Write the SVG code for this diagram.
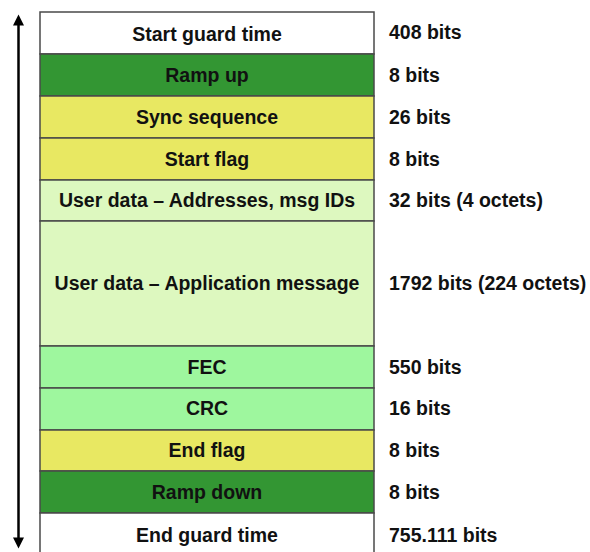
<svg xmlns="http://www.w3.org/2000/svg" width="590" height="552" viewBox="0 0 590 552">
  <style>
    .cell { stroke: #4a4a4a; stroke-width: 1.5; }
    .white { fill: #ffffff; }
    .dark { fill: #339633; }
    .yellow { fill: #e8e862; }
    .pale { fill: #ddf8bf; }
    .mint { fill: #9ef79e; }
    text { font-family: "Liberation Sans", Arial, sans-serif; font-weight: bold; font-size: 19.5px; fill: #111; }
    .name { text-anchor: middle; }
    .size { text-anchor: start; }
  </style>
  <defs>
    <marker id="head" viewBox="0 0 10 10" refX="5" refY="5" markerWidth="4.8" markerHeight="4.4" orient="auto-start-reverse" markerUnits="strokeWidth">
      <path d="M0,0 L10,5 L0,10 z" fill="#000"/>
    </marker>
  </defs>

  <rect width="590" height="552" fill="#ffffff"/>

  <!-- frame span arrow -->
  <g id="connectors">
    <line x1="18.5" y1="20" x2="18.5" y2="543" stroke="#000" stroke-width="2.5" marker-start="url(#head)" marker-end="url(#head)"/>
  </g>

  <g id="start-guard">
    <rect class="cell white" x="40" y="12" width="334" height="42"/>
    <text class="name" x="207" y="41">Start guard time</text>
    <text class="size" x="389" y="39">408 bits</text>
  </g>
  <g id="ramp-up">
    <rect class="cell dark" x="40" y="54" width="334" height="42"/>
    <text class="name" x="207" y="82">Ramp up</text>
    <text class="size" x="389" y="82">8 bits</text>
  </g>
  <g id="sync">
    <rect class="cell yellow" x="40" y="96" width="334" height="42"/>
    <text class="name" x="207" y="124">Sync sequence</text>
    <text class="size" x="389" y="124">26 bits</text>
  </g>
  <g id="start-flag">
    <rect class="cell yellow" x="40" y="138" width="334" height="42"/>
    <text class="name" x="207" y="166">Start flag</text>
    <text class="size" x="389" y="166">8 bits</text>
  </g>
  <g id="user-addr">
    <rect class="cell pale" x="40" y="180" width="334" height="41"/>
    <text class="name" x="207" y="207">User data – Addresses, msg IDs</text>
    <text class="size" x="389" y="207">32 bits (4 octets)</text>
  </g>
  <g id="user-app">
    <rect class="cell pale" x="40" y="221" width="334" height="125"/>
    <text class="name" x="207" y="290">User data – Application message</text>
    <text class="size" x="389" y="290">1792 bits (224 octets)</text>
  </g>
  <g id="fec">
    <rect class="cell mint" x="40" y="346" width="334" height="42"/>
    <text class="name" x="207" y="374">FEC</text>
    <text class="size" x="389" y="374">550 bits</text>
  </g>
  <g id="crc">
    <rect class="cell mint" x="40" y="388" width="334" height="42"/>
    <text class="name" x="207" y="415">CRC</text>
    <text class="size" x="389" y="415">16 bits</text>
  </g>
  <g id="end-flag">
    <rect class="cell yellow" x="40" y="430" width="334" height="41"/>
    <text class="name" x="207" y="457">End flag</text>
    <text class="size" x="389" y="457">8 bits</text>
  </g>
  <g id="ramp-down">
    <rect class="cell dark" x="40" y="471" width="334" height="42"/>
    <text class="name" x="207" y="499">Ramp down</text>
    <text class="size" x="389" y="499">8 bits</text>
  </g>
  <g id="end-guard">
    <rect class="cell white" x="40" y="513" width="334" height="45"/>
    <text class="name" x="207" y="542">End guard time</text>
    <text class="size" x="389" y="542">755.111 bits</text>
  </g>
</svg>
